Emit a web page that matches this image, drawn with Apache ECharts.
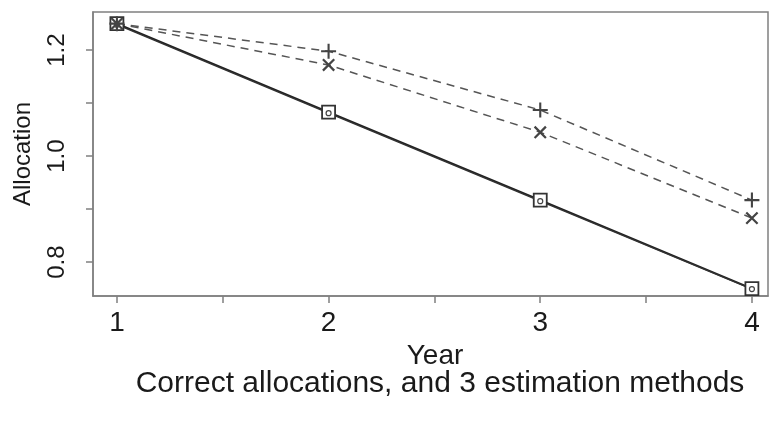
<!DOCTYPE html>
<html>
<head>
<meta charset="utf-8">
<script src="https://cdn.jsdelivr.net/npm/echarts@6/dist/echarts.min.js"></script>
<style>
html,body{margin:0;padding:0;background:#fff;}
#chart{width:771px;height:423px;}
</style>
</head>
<body>
<div id="chart"></div>
<script>
var years = [1, 2, 3, 4];
var correctAlloc = [1.25, 1.083, 0.917, 0.75];
var methodPlus = [1.25, 1.198, 1.087, 0.917];
var methodCross = [1.25, 1.172, 1.045, 0.883];
var methodThird = [1.248, 1.081, 0.915, 0.749];
var xTickValues = [1, 1.5, 2, 2.5, 3, 3.5, 4];
var xLabelValues = [1, 2, 3, 4];
var yTickValues = [0.8, 0.9, 1.0, 1.1, 1.2];
var yLabelValues = [0.8, 1.0, 1.2];
var xName = 'Year';
var yName = 'Allocation';
var subtitle = 'Correct allocations, and 3 estimation methods';

function pairs(xs, ys) { return xs.map(function (x, i) { return [x, ys[i]]; }); }

var FONT = '"Liberation Sans", Arial, sans-serif';
var TXT = '#1a1a1a';
var AX = '#808080';
var plusPath = 'path://M4.3,0H5.7V10H4.3Z M0,4.3H10V5.7H0Z';

var chart = echarts.init(document.getElementById('chart'), null, {renderer: 'canvas'});
chart.setOption({
  animation: false,
  backgroundColor: '#fff',
  title: {
    text: subtitle,
    left: 435,
    top: 364,
    textAlign: 'center',
    textStyle: {fontFamily: FONT, fontSize: 30, fontWeight: 'normal', color: TXT}
  },
  grid: {left: 93, top: 12, right: 3, bottom: 127, show: true, borderColor: AX, borderWidth: 1.5},
  xAxis: {
    type: 'value',
    min: 0.887,
    max: 4.076,
    name: xName,
    nameLocation: 'middle',
    nameGap: 42,
    nameTextStyle: {fontFamily: FONT, fontSize: 28, color: TXT, padding: [0, 0, 0, 9]},
    axisLine: {show: true, onZero: false, lineStyle: {color: AX, width: 1.5}},
    axisTick: {show: true, length: 7, customValues: xTickValues, lineStyle: {color: AX, width: 1.5}},
    axisLabel: {customValues: xLabelValues, margin: 13, fontFamily: FONT, fontSize: 28, color: TXT,
      formatter: function (v) { return String(v); }},
    splitLine: {show: false}
  },
  yAxis: {
    type: 'value',
    min: 0.736,
    max: 1.272,
    name: yName,
    nameLocation: 'middle',
    nameGap: 58,
    nameTextStyle: {fontFamily: FONT, fontSize: 24, color: TXT},
    axisLine: {show: true, onZero: false, lineStyle: {color: AX, width: 1.5}},
    axisTick: {show: true, length: 7, customValues: yTickValues, lineStyle: {color: AX, width: 1.5}},
    axisLabel: {customValues: yLabelValues, rotate: 90, margin: 24, fontFamily: FONT, fontSize: 24, color: TXT,
      formatter: function (v) { return v.toFixed(1); }},
    splitLine: {show: false}
  },
  series: [
    {
      name: 'Correct', type: 'line', data: pairs(years, correctAlloc),
      symbol: 'rect', symbolSize: 13, showSymbol: true,
      lineStyle: {color: '#222', width: 2},
      itemStyle: {color: '#fff', borderColor: '#333', borderWidth: 1.8}
    },
    {
      name: 'Method 3', type: 'line', data: pairs(years, methodThird),
      symbol: 'circle', symbolSize: 5, showSymbol: true,
      lineStyle: {color: '#333', width: 1.3},
      itemStyle: {color: 'rgba(0,0,0,0)', borderColor: '#444', borderWidth: 1.2}
    },
    {
      name: 'Method 1', type: 'line', data: pairs(years, methodPlus),
      symbol: plusPath, symbolSize: 15, showSymbol: true,
      lineStyle: {color: '#555', width: 1.5, type: [8, 6]},
      itemStyle: {color: '#444'}
    },
    {
      name: 'Method 2', type: 'line', data: pairs(years, methodCross),
      symbol: plusPath, symbolSize: 16, symbolRotate: 45, showSymbol: true,
      lineStyle: {color: '#555', width: 1.5, type: [8, 6]},
      itemStyle: {color: '#444'}
    }
  ]
});
</script>
</body>
</html>
